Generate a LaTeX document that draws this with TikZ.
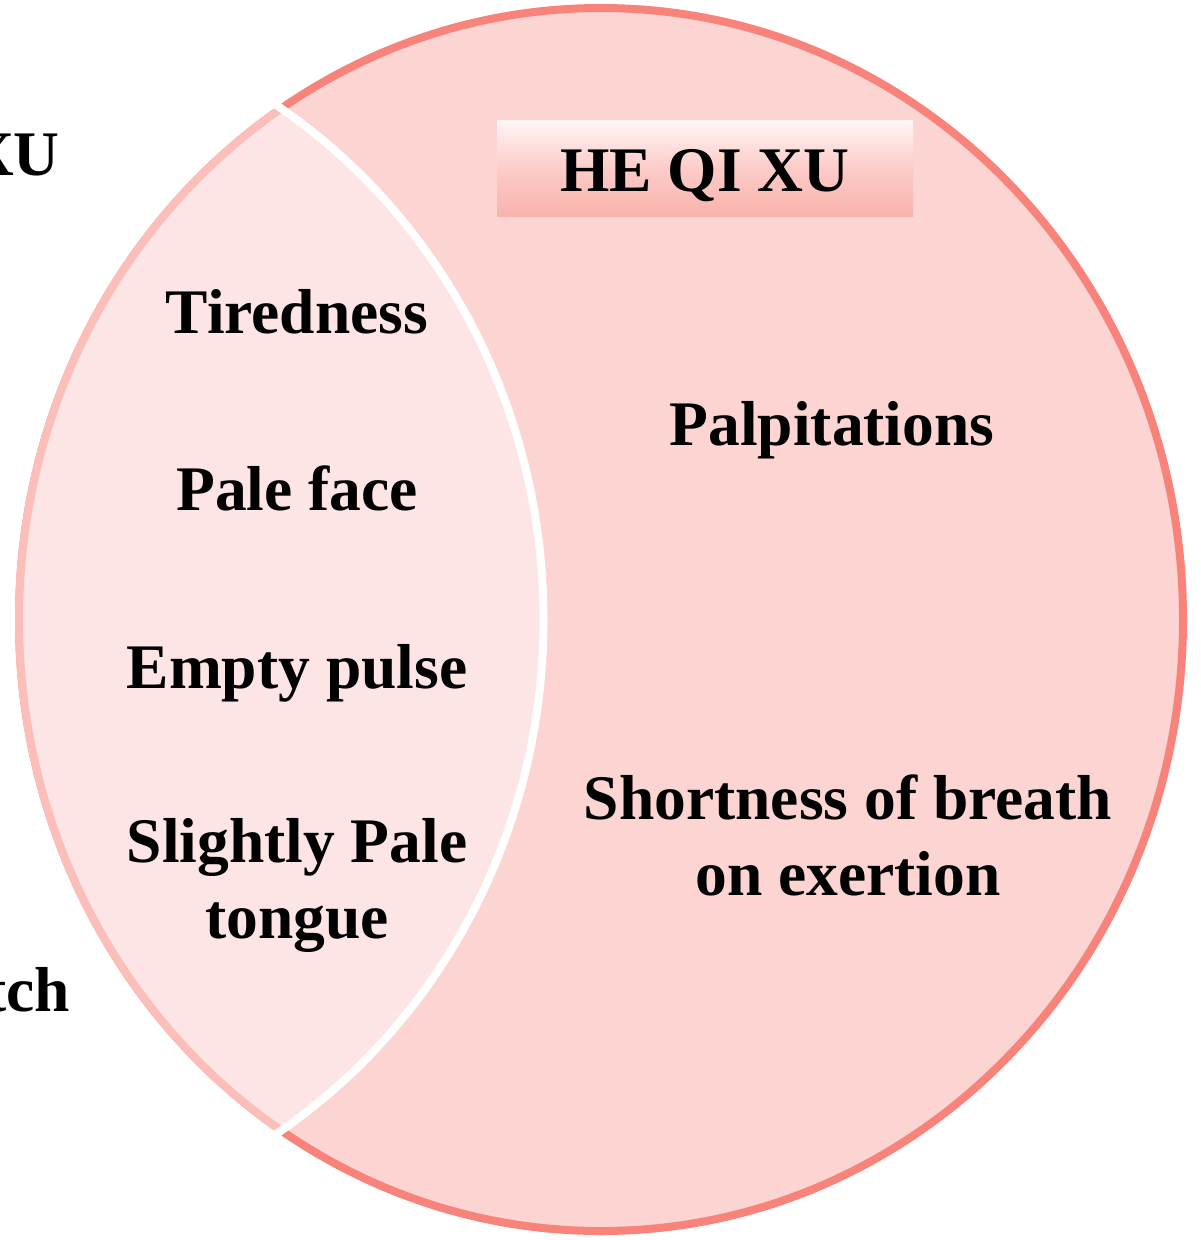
\documentclass[tikz,border=0pt]{standalone}
\usepackage{fontspec}
\setmainfont{Liberation Serif}
\definecolor{ringred}{RGB}{248,131,123}
\definecolor{rightfill}{RGB}{252,212,209}
\definecolor{lensfill}{RGB}{252,229,228}
\definecolor{lensline}{RGB}{251,190,184}
\definecolor{boxtop}{RGB}{255,246,246}
\definecolor{boxmid}{RGB}{252,204,201}
\definecolor{boxbot}{RGB}{249,178,172}
\tikzset{
  lbl/.style={font=\fontsize{63.5}{76}\selectfont\bfseries, text=black, inner sep=0pt, align=center},
}
\begin{document}
\begin{tikzpicture}[x=1pt,y=-1pt]
\useasboundingbox (0,0) rectangle (1201,1240);
\def\bigE{(601,619.5) ellipse [x radius=582, y radius=611.5]}
\def\leftE{(-38.5,619.5) ellipse [x radius=582, y radius=611.5]}
% big circle
\fill[rightfill] \bigE;
\draw[ringred, line width=8pt] \bigE;
% lens
\begin{scope}
  \clip \leftE;
  \fill[lensfill] \bigE;
  \draw[lensline, line width=8pt] \bigE;
\end{scope}
% white dividing arc
\begin{scope}
  \clip (601,619.5) ellipse [x radius=587, y radius=616.5];
  \draw[white, line width=8pt] \leftE;
\end{scope}
% title box
\node[rectangle, minimum width=416pt, minimum height=96pt, inner sep=0pt,
      top color=boxtop, bottom color=boxbot, middle color=boxmid] (box) at (705,168) {};
\node[lbl, anchor=base] (title) at (705,191) {HE QI XU};
% lens texts
\node[lbl, anchor=base] (t1) at (297,333) {Tiredness};
\node[lbl, anchor=base] (t2) at (297,510) {Pale face};
\node[lbl, anchor=base] (t3) at (297,688) {Empty pulse};
\node[lbl, anchor=base] (t4) at (297,938) {Slightly Pale\\tongue};
% right texts
\node[lbl, anchor=base] (r1) at (832,445) {Palpitations};
\node[lbl, anchor=base] (r2) at (848,895) {Shortness of breath\\on exertion};
% cut-off texts on the left, as in the reference
\node[lbl, anchor=base east] (l1) at (60,175) {XU};
\node[lbl, anchor=base east] (l2) at (70,1011) {tch};
\end{tikzpicture}
\end{document}
